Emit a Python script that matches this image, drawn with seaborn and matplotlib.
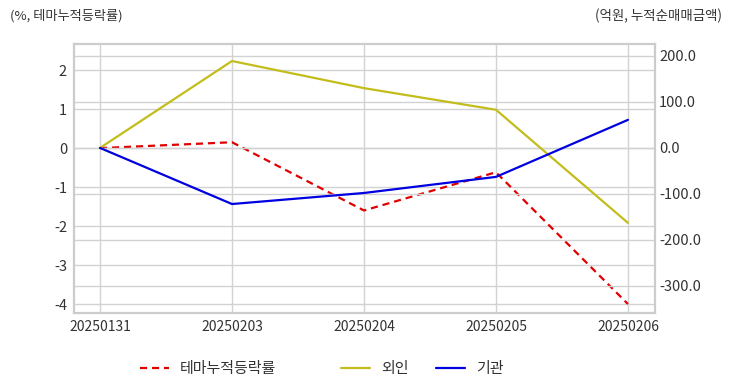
import matplotlib
matplotlib.use('Agg')
import matplotlib.pyplot as plt
import seaborn as sns
import pandas as pd

dates = ['20250131', '20250203', '20250204', '20250205', '20250206']
theme_rate = [0.0, 0.15, -1.6, -0.62, -4.0]      # %, left axis
foreign = [0.0, 189.0, 130.0, 83.0, -163.0]      # 억원, right axis
institution = [0.0, -122.0, -98.0, -63.0, 61.0]  # 억원, right axis

sns.set_style('white')
plt.rcParams['font.family'] = ['Noto Sans CJK KR', 'DejaVu Sans']
plt.rcParams['axes.unicode_minus'] = False

df = pd.DataFrame({'date': dates, 'theme': theme_rate,
                   'foreign': foreign, 'inst': institution})

fig = plt.figure(figsize=(7.32, 3.92), dpi=100)
ax = fig.add_axes([74 / 732, 79 / 392, 581 / 732, 269 / 392])
ax2 = ax.twinx()

grid_c = '#d2d2d2'
sns.lineplot(data=df, x='date', y='theme', ax=ax, color='#e00000',
             linestyle=(0, (3.2, 2.2)), linewidth=1.6, label='테마누적등락률')
sns.lineplot(data=df, x='date', y='foreign', ax=ax2, color='#c3bd1c',
             linewidth=1.6, label='외인')
sns.lineplot(data=df, x='date', y='inst', ax=ax2, color='#0000e0',
             linewidth=1.6, label='기관')

ax.set_xlim(-0.197, 4.205)
ax.set_ylim(-4.23, 2.67)
ax2.set_ylim(-359, 226)
ax.set_yticks([2, 1, 0, -1, -2, -3, -4])
ax2.set_yticks([200, 100, 0, -100, -200, -300])
ax2.set_yticklabels([f'{v:.1f}' for v in [200, 100, 0, -100, -200, -300]])

ax.grid(True, color=grid_c, linewidth=1)
ax2.grid(True, axis='y', color=grid_c, linewidth=1)
ax.set_axisbelow(True)
ax2.set_axisbelow(True)

for a in (ax, ax2):
    for s in a.spines.values():
        s.set_color('#cccccc')
        s.set_linewidth(1.5)
    a.set_xlabel('')
    a.set_ylabel('')
ax.tick_params(axis='x', length=0, labelsize=10, colors='#333333', pad=5)
ax.tick_params(axis='y', length=0, labelsize=10.5, colors='#333333', pad=5)
ax2.tick_params(axis='y', length=0, labelsize=10.5, colors='#333333', pad=3)

h1, l1 = ax.get_legend_handles_labels()
h2, l2 = ax2.get_legend_handles_labels()
ax.get_legend().remove()
ax2.get_legend().remove()
leg_kw = dict(loc='center left', frameon=False, fontsize=10.8, handlelength=1.9,
              handletextpad=0.75, borderpad=0, borderaxespad=0, labelcolor='#333333')
leg1 = fig.legend(h1, l1, bbox_to_anchor=(140 / 732, 1 - 369 / 392), **leg_kw)
leg2 = fig.legend(h2, l2, bbox_to_anchor=(341 / 732, 1 - 369 / 392), ncol=2,
                  columnspacing=1.85, **leg_kw)

fig.text(10 / 732, 1 - 16 / 392, '(%, 테마누적등락률)', fontsize=9.5, color='#333333',
         ha='left', va='center')
fig.text(722 / 732, 1 - 16 / 392, '(억원, 누적순매매금액)', fontsize=9.7, color='#333333',
         ha='right', va='center')

fig.savefig('out.png', dpi=100)
